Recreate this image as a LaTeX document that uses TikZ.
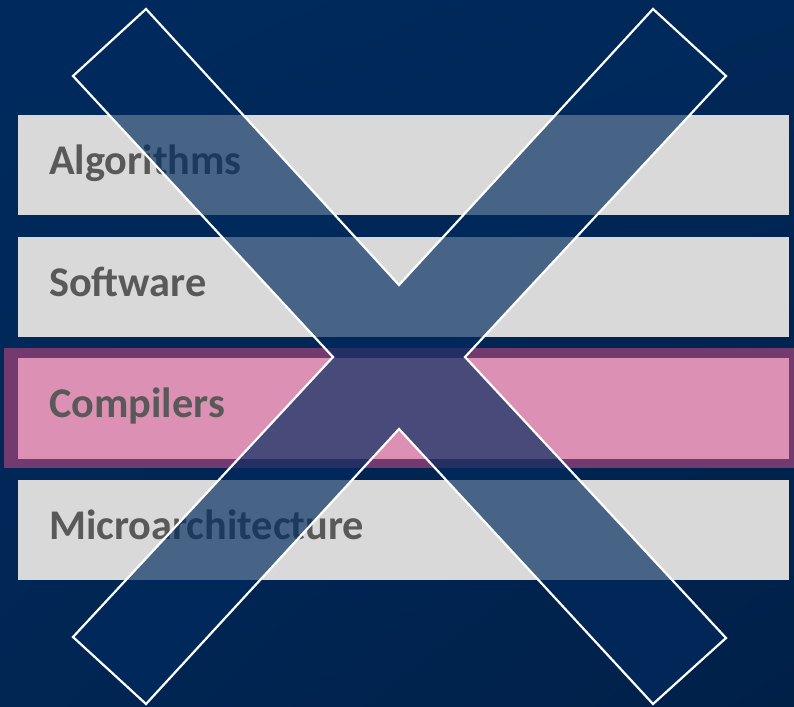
\documentclass[tikz,border=0pt]{standalone}
\usepackage{fontspec}
\setmainfont{Carlito}
\usetikzlibrary{shadings}
\definecolor{navytop}{RGB}{0,42,94}
\definecolor{navytr}{RGB}{0,40,88}
\definecolor{navybl}{RGB}{0,38,84}
\definecolor{navybot}{RGB}{0,32,72}
\definecolor{bargray}{RGB}{217,217,217}
\definecolor{labelgray}{RGB}{89,89,89}
\definecolor{hlpink}{RGB}{220,145,180}
\definecolor{hlpurple}{RGB}{115,58,112}
\definecolor{crossfill}{RGB}{0,42,94}
\tikzset{
  layerbar/.style={fill=bargray, draw=none},
  layerlabel/.style={anchor=base west, inner sep=0pt, text=labelgray,
    font=\fontsize{42.3}{50}\selectfont\bfseries},
  crossmark/.style={fill=crossfill, fill opacity=0.67, draw=white, line width=2.2pt, line join=miter}
}
\begin{document}
\begin{tikzpicture}[x=1pt,y=-1pt]
  \useasboundingbox (0,0) rectangle (794,706);
  % background
  \shade[upper left=navytop, upper right=navytr, lower left=navybl, lower right=navybot]
    (0,0) rectangle (794,706);
  % layer bars
  \fill[layerbar] (18,115) rectangle (789,215);
  \fill[layerbar] (18,237) rectangle (789,337);
  \fill[hlpurple] (4,348) rectangle (794,468);
  \fill[hlpink] (18,358) rectangle (789,459);
  \fill[layerbar] (18,480) rectangle (789,580);
  % labels
  \node[layerlabel] (alg) at (49,174) {Algorithms};
  \node[layerlabel] (sw) at (49,296) {Software};
  \node[layerlabel] (comp) at (49,417) {Compilers};
  \node[layerlabel] (march) at (49,539) {Microarchitecture};
  % cross over the stack
  \draw[crossmark] (146,9) -- (399,285) -- (653,9) -- (726,76) -- (465,357)
    -- (726,638) -- (653,704) -- (399,429) -- (146,704) -- (73,637)
    -- (333,357) -- (73,76) -- cycle;
\end{tikzpicture}
\end{document}
